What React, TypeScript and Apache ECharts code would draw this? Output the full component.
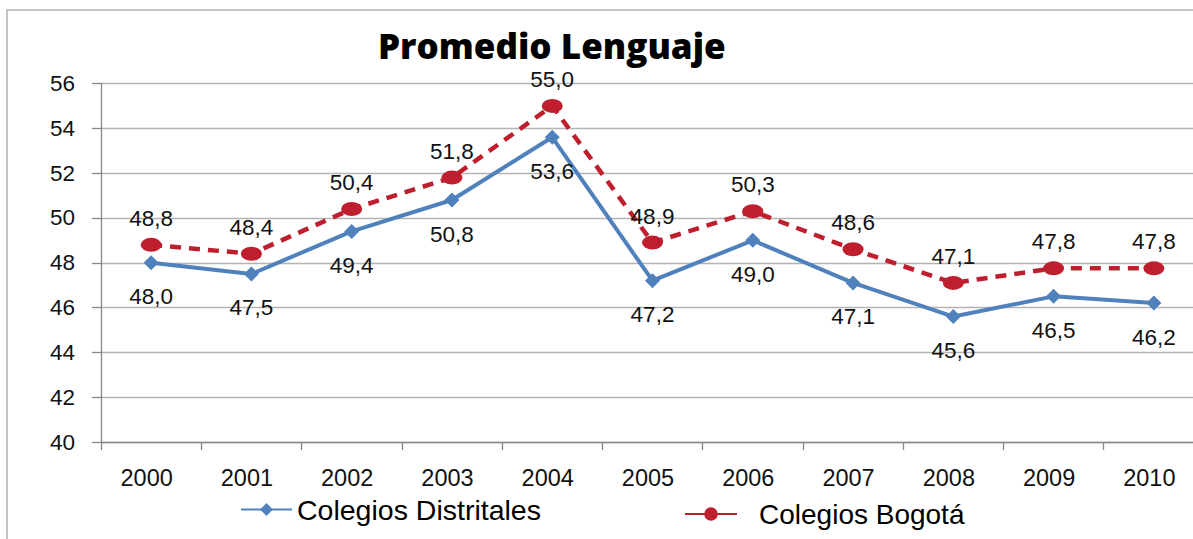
import React, { useEffect, useRef } from "react";
import * as echarts from "echarts";

const years = ["2000", "2001", "2002", "2003", "2004", "2005", "2006", "2007", "2008", "2009", "2010"];
const distritales = [48.0, 47.5, 49.4, 50.8, 53.6, 47.2, 49.0, 47.1, 45.6, 46.5, 46.2];
const bogota = [48.8, 48.4, 50.4, 51.8, 55.0, 48.9, 50.3, 48.6, 47.1, 47.75, 47.75];
const yTicks = { min: 40, max: 56, interval: 2 };
const titleText = "Promedio Lenguaje";
const nameDistritales = "Colegios Distritales";
const nameBogota = "Colegios Bogotá";

const BLUE = "#4F81BD";
const RED = "#BE1E2D";
const ELLIPSE = "path://M0,10a10,10 0 1,0 20,0a10,10 0 1,0 -20,0z";
const FONT = "Liberation Sans";

const fmt = (p: any) => Number(p.value).toFixed(1).replace(".", ",");

export default function App() {
  const ref = useRef<HTMLDivElement>(null);
  useEffect(() => {
    if (!ref.current) return;
    const chart = echarts.init(ref.current, undefined, { renderer: "svg" });
    chart.setOption({
      animation: false,
      backgroundColor: "#ffffff",
      title: {
        text: titleText,
        left: 378,
        top: 28,
        padding: 0,
        textStyle: { fontFamily: "Open Sans", fontWeight: 800, fontSize: 35, color: "#000" },
      },
      graphic: [
        {
          type: "rect",
          silent: true,
          shape: { x: 7, y: 10, width: 1400, height: 800 },
          style: { fill: "none", stroke: "#c4c4c4", lineWidth: 2 },
        },
      ],
      legend: [
        {
          data: [{ name: nameDistritales }],
          left: 240,
          top: 495,
          padding: 0,
          itemWidth: 51,
          itemHeight: 16,
          textStyle: { fontFamily: FONT, fontSize: 28.5, color: "#000" },
        },
        {
          data: [{ name: nameBogota }],
          left: 684,
          top: 500,
          padding: 0,
          itemWidth: 52,
          itemHeight: 17,
          lineStyle: { type: "solid" },
          textStyle: { fontFamily: FONT, fontSize: 28, color: "#000", padding: [0, 0, 0, 17] },
        },
      ],
      grid: { left: 101, top: 83.5, bottom: 97, right: -11, outerBoundsMode: "none" },
      xAxis: {
        type: "category",
        data: years,
        boundaryGap: true,
        axisLine: { show: true, lineStyle: { color: "#888", width: 1.3 } },
        axisTick: { show: true, length: 8, lineStyle: { color: "#888", width: 1.3 } },
        axisLabel: {
          margin: 24,
          fontFamily: FONT,
          fontSize: 23.5,
          color: "#111",
          padding: [0, 9, 0, 0],
        },
        splitLine: { show: false },
      },
      yAxis: {
        type: "value",
        min: yTicks.min,
        max: yTicks.max,
        interval: yTicks.interval,
        axisLine: { show: true, lineStyle: { color: "#888", width: 1.3 } },
        axisTick: { show: true, length: 9, lineStyle: { color: "#888", width: 1.3 } },
        axisLabel: {
          margin: 26,
          fontFamily: FONT,
          fontSize: 22.5,
          color: "#111",
          padding: [0, 0, 6, 0],
        },
        splitLine: { show: true, lineStyle: { color: "#b3b3b3", width: 1.3 } },
      },
      series: [
        {
          name: nameDistritales,
          type: "line",
          data: distritales,
          symbol: "diamond",
          symbolSize: 15,
          z: 3,
          lineStyle: { color: BLUE, width: 4 },
          itemStyle: { color: BLUE },
          label: {
            show: true,
            position: "bottom",
            distance: 15,
            formatter: fmt,
            fontFamily: FONT,
            fontSize: 22.5,
            color: "#111",
          },
        },
        {
          name: nameBogota,
          type: "line",
          data: bogota,
          symbol: ELLIPSE,
          symbolSize: [21, 14],
          z: 2,
          lineStyle: { color: RED, width: 4.5, type: [11, 8] },
          itemStyle: { color: RED },
          label: {
            show: true,
            position: "top",
            distance: 8,
            formatter: fmt,
            fontFamily: FONT,
            fontSize: 22.5,
            color: "#111",
          },
        },
      ],
    });
    return () => chart.dispose();
  }, []);
  return (
    <div
      ref={ref}
      style={{ position: "absolute", left: 0, top: 0, width: 1193, height: 539 }}
    />
  );
}
